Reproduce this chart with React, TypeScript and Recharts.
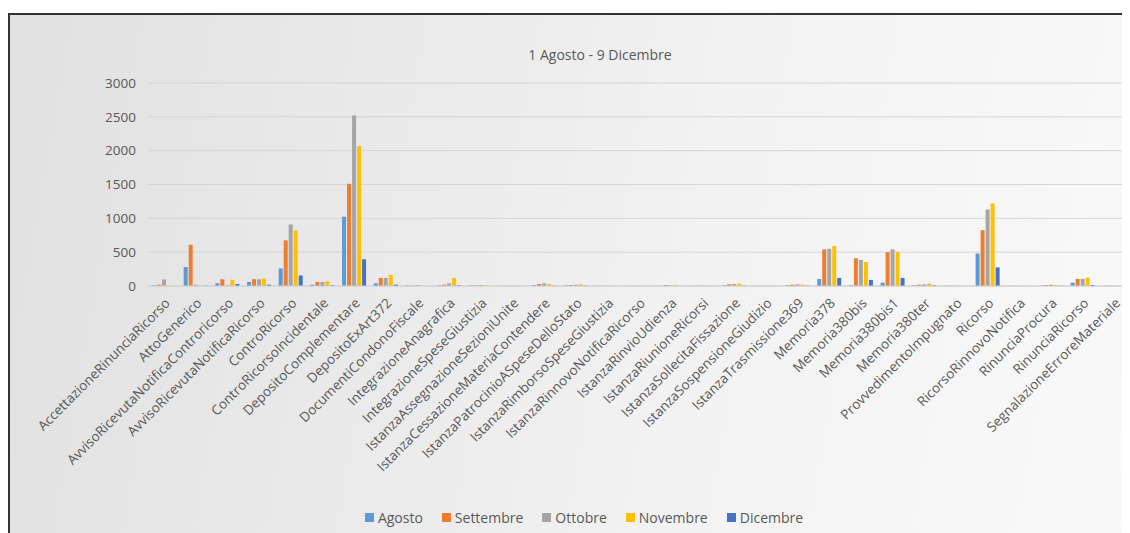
import { BarChart, Bar, XAxis, YAxis, CartesianGrid, Legend } from "recharts";

const categories = [
  "AccettazioneRinunciaRicorso",
  "AttoGenerico",
  "AvvisoRicevutaNotificaControricorso",
  "AvvisoRicevutaNotificaRicorso",
  "ControRicorso",
  "ControRicorsoIncidentale",
  "DepositoComplementare",
  "DepositoExArt372",
  "DocumentiCondonoFiscale",
  "IntegrazioneAnagrafica",
  "IntegrazioneSpeseGiustizia",
  "IstanzaAssegnazioneSezioniUnite",
  "IstanzaCessazioneMateriaContendere",
  "IstanzaPatrocinioASpeseDelloStato",
  "IstanzaRimborsoSpeseGiustizia",
  "IstanzaRinnovoNotificaRicorso",
  "IstanzaRinvioUdienza",
  "IstanzaRiunioneRicorsi",
  "IstanzaSollecitaFissazione",
  "IstanzaSospensioneGiudizio",
  "IstanzaTrasmissione369",
  "Memoria378",
  "Memoria380bis",
  "Memoria380bis1",
  "Memoria380ter",
  "ProvvedimentoImpugnato",
  "Ricorso",
  "RicorsoRinnovoNotifica",
  "RinunciaProcura",
  "RinunciaRicorso",
  "SegnalazioneErroreMateriale",
];

const agosto = [10, 280, 40, 60, 260, 20, 1025, 40, 10, 10, 10, 2, 15, 10, 2, 1, 5, 3, 10, 2, 10, 105, 10, 50, 10, 3, 480, 2, 5, 50, 3];
const settembre = [20, 610, 100, 100, 675, 60, 1510, 120, 5, 20, 10, 3, 30, 15, 3, 2, 15, 5, 25, 3, 20, 540, 410, 500, 20, 5, 825, 5, 15, 105, 5];
const ottobre = [95, 20, 10, 100, 910, 60, 2520, 120, 15, 40, 15, 5, 40, 20, 2, 2, 10, 8, 30, 3, 25, 550, 385, 540, 25, 5, 1130, 5, 20, 105, 5];
const novembre = [5, 5, 90, 110, 820, 70, 2070, 165, 5, 120, 10, 3, 30, 25, 3, 1, 15, 5, 35, 4, 20, 590, 355, 505, 35, 5, 1220, 5, 15, 125, 5];
const dicembre = [0, 5, 30, 20, 155, 10, 395, 20, 0, 10, 0, 0, 5, 5, 0, 0, 0, 0, 5, 0, 5, 120, 90, 120, 10, 0, 275, 0, 3, 15, 0];

const yTicks = [0, 500, 1000, 1500, 2000, 2500, 3000];

const series = [
  { key: "Agosto", values: agosto, color: "#5B9BD5" },
  { key: "Settembre", values: settembre, color: "#ED7D31" },
  { key: "Ottobre", values: ottobre, color: "#A5A5A5" },
  { key: "Novembre", values: novembre, color: "#FFC000" },
  { key: "Dicembre", values: dicembre, color: "#4472C4" },
];

const data = categories.map((name, i) => {
  const row: Record<string, string | number> = { name };
  series.forEach((s) => {
    row[s.key] = s.values[i];
  });
  return row;
});

const FONT = "'Open Sans', sans-serif";
const TEXT = "#595959";

function CategoryTick({ x, y, payload }: any) {
  return (
    <text
      x={x + 7}
      y={y + 10}
      transform={`rotate(-45, ${x + 7}, ${y + 10})`}
      textAnchor="end"
      fontSize={13.5}
      fontFamily={FONT}
      fill={TEXT}
    >
      {payload.value}
    </text>
  );
}

function LegendBox() {
  return (
    <div style={{ display: "flex", justifyContent: "center", gap: 19, fontFamily: FONT, fontSize: 14, color: TEXT }}>
      {series.map((s) => (
        <span key={s.key} style={{ display: "flex", alignItems: "center" }}>
          <span style={{ width: 9, height: 9, background: s.color, marginRight: 4, display: "inline-block" }} />
          {s.key}
        </span>
      ))}
    </div>
  );
}

export default function App() {
  return (
    <div
      style={{
        position: "relative",
        width: 1122,
        height: 520,
        marginTop: 5,
        boxSizing: "border-box",
        borderTop: "2px solid #333",
        borderLeft: "2px solid #333",
        background: "linear-gradient(100deg, #e1e1e1 0%, #eaeaea 35%, #f2f2f2 60%, #f9f9f9 100%)",
        overflow: "hidden",
      }}
    >
      <div
        style={{
          position: "absolute",
          top: 30,
          left: 0,
          width: 1180,
          textAlign: "center",
          fontFamily: FONT,
          fontSize: 14,
          color: TEXT,
        }}
      >
        1 Agosto - 9 Dicembre
      </div>
      <BarChart
        width={1120}
        height={518}
        data={data}
        margin={{ top: 68, right: 0, left: 0, bottom: 8 }}
        barSize={4}
        barGap={1}
      >
        <CartesianGrid vertical={false} stroke="#d6d6d6" />
        <YAxis
          domain={[0, 3000]}
          ticks={yTicks}
          width={138}
          axisLine={false}
          tickLine={false}
          tickSize={0}
          tickMargin={12}
          tick={{ fontSize: 13.5, fontFamily: FONT, fill: TEXT }}
        />
        <XAxis
          dataKey="name"
          interval={0}
          height={220}
          tick={<CategoryTick />}
          tickLine={false}
          axisLine={{ stroke: "#d0d0d0" }}
        />
        <Legend content={<LegendBox />} wrapperStyle={{ left: 324, width: 500, bottom: 6 }} />
        {series.map((s) => (
          <Bar key={s.key} dataKey={s.key} fill={s.color} isAnimationActive={false} />
        ))}
      </BarChart>
    </div>
  );
}
